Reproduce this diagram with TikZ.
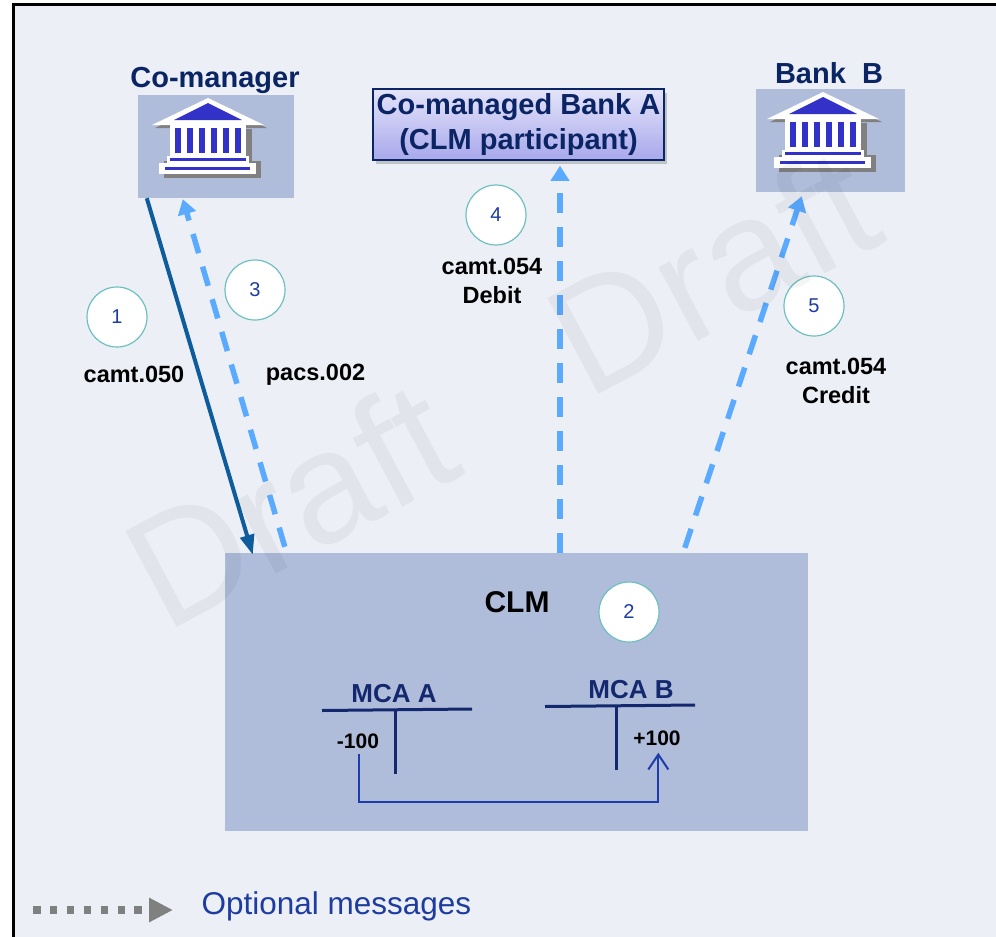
\documentclass[tikz,border=0pt]{standalone}
\usepackage{fontspec}
\setmainfont{Liberation Sans}
\usepackage{xcolor}
\usetikzlibrary{arrows.meta,positioning,calc,shadows}
\definecolor{panelgray}{RGB}{236,240,246}
\definecolor{boxblue}{RGB}{175,189,219}
\definecolor{titlenavy}{RGB}{10,36,100}
\definecolor{ringteal}{RGB}{110,192,192}
\definecolor{numblue}{RGB}{30,60,160}
\definecolor{msgdark}{RGB}{14,92,155}
\definecolor{msglight}{RGB}{90,170,255}
\definecolor{iconblue}{RGB}{50,50,200}
\definecolor{icongray}{RGB}{128,128,128}
\definecolor{acctnavy}{RGB}{20,40,110}
\definecolor{xferblue}{RGB}{30,60,170}
\definecolor{boxtop}{RGB}{228,228,250}
\definecolor{boxbottom}{RGB}{168,168,236}

% bank building icon, #1 = centre of the columns
\newcommand{\bankicon}[1]{%
\begin{scope}[shift={(#1)}]
  \fill[icongray] (3,-36) -- (59,-9) -- (-53,-9) -- cycle;
  \fill[icongray] (-33,-8) rectangle (44,24);
  \fill[icongray] (-44,24) rectangle (53,41);
  \fill[white] (0,-39) -- (56,-12) -- (-56,-12) -- cycle;
  \fill[iconblue] (0,-34) -- (34,-17) -- (-34,-17) -- cycle;
  \fill[white] (-38,-12) rectangle (38,19);
  \foreach \cx in {-33,-21,...,27} \fill[iconblue] (\cx,-9) rectangle ++(6,25);
  \fill[white] (-41,19) rectangle (41,26);
  \draw[iconblue, line width=2.5pt] (-38,22.5) -- (38,22.5);
  \fill[white] (-49,26) rectangle (48,37);
  \draw[iconblue, line width=2.5pt] (-43,31.5) -- (42,31.5);
\end{scope}}

\begin{document}
\begin{tikzpicture}[x=1pt, y=-1pt,
    title/.style={font=\bfseries\fontsize{29}{35}\selectfont, text=titlenavy},
    partybox/.style={rectangle, fill=boxblue, inner sep=0pt},
    stepnum/.style={circle, draw=ringteal, line width=1.2pt, fill=white, minimum size=60pt, inner sep=0pt, font=\fontsize{20}{20}\selectfont, text=numblue},
    msglabel/.style={font=\bfseries\fontsize{23.5}{29}\selectfont, align=center},
    acct/.style={font=\bfseries\fontsize{26}{26}\selectfont, text=acctnavy},
    amount/.style={font=\bfseries\fontsize{21}{21}\selectfont},
    mainmsg/.style={draw=msgdark, line width=4pt, -{Triangle[length=20pt,width=14pt]}},
    optmsg/.style={draw=msglight, line width=5.5pt, dash pattern=on 20pt off 14pt, -{Triangle[length=15pt,width=18pt]}},
    acctline/.style={draw=acctnavy, line width=3pt},
    xfer/.style={draw=xferblue, line width=2pt, -{Straight Barb[length=15pt,width=20pt]}},
    legarrow/.style={draw=icongray, line width=7.5pt, dash pattern=on 7.5pt off 9.4pt, -{Triangle[length=24pt,width=23pt]}},
    legtext/.style={font=\fontsize{31.5}{32}\selectfont, text=numblue},
    watermark/.style={font=\fontsize{158}{158}\selectfont, text=black, text opacity=0.045, rotate=28}
]
\useasboundingbox (0,0) rectangle (996,937);
\fill[white] (0,0) rectangle (996,937);
\fill[panelgray] (13,4) rectangle (996,937);
\draw[line width=3pt] (13,937) -- (13,4) -- (996,4);

% participants
\node[partybox, minimum width=156pt, minimum height=103pt] (comgr) at (216,146.5) {};
\bankicon{208,137}
\node[title, anchor=base] (comgrlbl) at (215,87) {Co-manager};

\node[rectangle, draw=titlenavy, line width=1.5pt, top color=boxtop, bottom color=boxbottom,
      drop shadow={shadow xshift=3pt, shadow yshift=-4pt, opacity=0.4, fill=gray},
      minimum width=291pt, minimum height=71pt, inner sep=0pt, title, align=center] (bankA) at (518.5,124.5)
      {Co-managed Bank A\\(CLM participant)};

\node[partybox, minimum width=149pt, minimum height=103pt] (bankB) at (830.5,140.5) {};
\bankicon{823,131}
\node[title, anchor=base] (bankBlbl) at (829,83) {Bank\ \ B};

% CLM
\node[partybox, minimum width=583pt, minimum height=278pt] (clm) at (516.5,692) {};
\node[font=\bfseries\fontsize{30}{30}\selectfont, anchor=base] (clmlbl) at (517,612) {CLM};

% accounts
\node[acct, anchor=base] (mcaA) at (394,702) {MCA A};
\node[acct, anchor=base] (mcaB) at (631,698) {MCA B};
\draw[acctline] (322,710.5) -- (472,709);
\draw[acctline] (395,709) -- (395,774);
\draw[acctline] (545,706.5) -- (695,705);
\draw[acctline] (616.5,705) -- (616.5,770);
\node[amount, anchor=base] (debA) at (358,748) {-100};
\node[amount, anchor=base] (credB) at (657,745) {+100};
\draw[xfer] (358.7,754) -- (358.7,801.7) -| (658.3,752.7);

% messages
\draw[mainmsg] ($(comgr.south west)+(9,0)$) -- ($(clm.north west)+(28,2)$);
\draw[optmsg] ($(clm.north west)+(60,-6)$) -- ($(comgr.south west)+(45,1)$);
\draw[optmsg] ($(clm.north)+(43.5,0)$) -- ($(bankA.south)+(41.5,5)$);
\draw[optmsg] ($(clm.north west)+(460,-5)$) -- ($(bankB.south west)+(46,4)$);

\node[stepnum] (n1) at (117,317) {1};
\node[stepnum] (n2) at (629,612) {2};
\node[stepnum] (n3) at (255,290) {3};
\node[stepnum] (n4) at (496,215) {4};
\node[stepnum] (n5) at (814,306) {5};

\node[msglabel, anchor=base] (camt050) at (134,382) {camt.050};
\node[msglabel, anchor=base] (pacs002) at (315.5,380) {pacs.002};
\node[msglabel] (camtdebit) at (492,281) {camt.054\\Debit};
\node[msglabel] (camtcredit) at (836,381) {camt.054\\Credit};

% legend
\coordinate (legfrom) at (33,910);
\coordinate (legto) at (173,910);
\draw[legarrow] (legfrom) -- (legto);
\node[legtext, anchor=base west] (legtxt) at (198,914) {Optional messages};

% watermark
\node[watermark] (wm1) at (290,503) {Draft};
\node[watermark] (wm2) at (712,270) {Draft};
\end{tikzpicture}
\end{document}
